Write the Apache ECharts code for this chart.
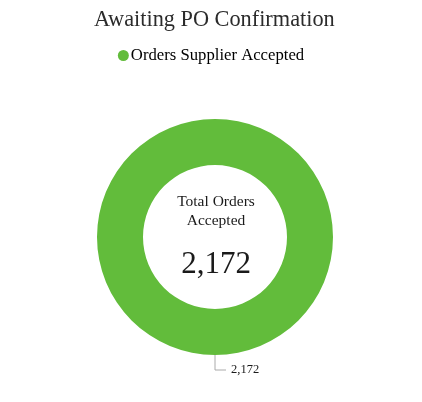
<!DOCTYPE html>
<html>
<head>
<meta charset="utf-8">
<script src="https://cdn.jsdelivr.net/npm/echarts@6/dist/echarts.min.js"></script>
<style>
    html, body { margin: 0; padding: 0; background: #fff; }
    #chart { width: 422px; height: 402px; }
</style>
</head>
<body>
<div id="chart"></div>
<script>
    // data
    let seriesNames = ['Orders Supplier Accepted'];
    let seriesValues = [2172];
    let centerLabel = 'Total Orders\nAccepted';

    let total = seriesValues.reduce((a, b) => a + b, 0);
    let FONT = '"Liberation Serif", "Times New Roman", serif';
    let CX = 216, CY = 237;

    let CHART = echarts.init(document.getElementById('chart'));
    CHART.setOption({
        color: ['#62bc3b'],
        title: {
            text: 'Awaiting PO Confirmation',
            left: 89,
            top: 4,
            textStyle: { fontFamily: FONT, fontSize: 22.3, fontWeight: 'normal', color: '#2b2b2b' }
        },
        legend: {
            top: 42,
            left: 'center',
            icon: 'circle',
            itemWidth: 11,
            itemHeight: 11,
            itemGap: 3,
            selectedMode: false,
            textStyle: { fontFamily: FONT, fontSize: 16.7, color: '#000', padding: [0, 0, 0, -3] },
            data: seriesNames
        },
        graphic: [{
            type: 'text',
            x: CX,
            y: 192,
            style: {
                text: centerLabel,
                fill: '#1a1a1a',
                font: '15.5px ' + FONT,
                lineHeight: 19,
                align: 'center',
                verticalAlign: 'top'
            }
        }, {
            type: 'text',
            x: CX,
            y: 265,
            style: {
                text: total.toLocaleString('en-US'),
                fill: '#1a1a1a',
                font: '31px ' + FONT,
                align: 'center',
                verticalAlign: 'middle'
            }
        }],
        series: [{
            name: 'Awaiting PO Confirmation',
            type: 'pie',
            center: [CX - 1, CY],
            radius: [72, 118],
            silent: true,
            avoidLabelOverlap: false,
            label: {
                show: true,
                formatter: p => p.value.toLocaleString('en-US'),
                fontFamily: FONT,
                fontSize: 12.5,
                color: '#1a1a1a'
            },
            labelLine: {
                show: true,
                length: 15,
                length2: 11,
                lineStyle: { color: '#aaa', width: 1 }
            },
            data: seriesNames.map((n, i) => ({ name: n, value: seriesValues[i] }))
        }]
    });
</script>
</body>
</html>
